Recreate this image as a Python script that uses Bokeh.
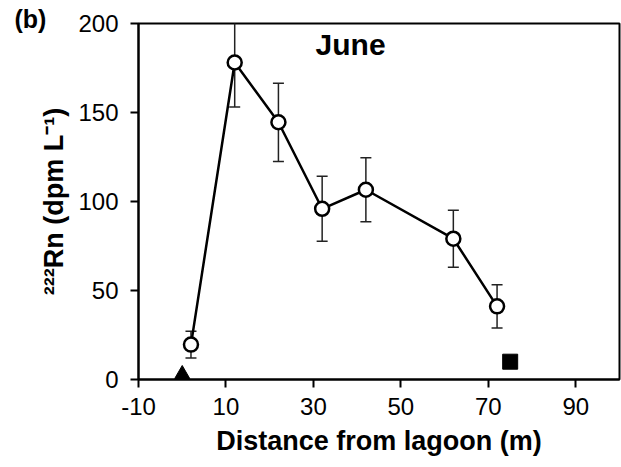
from bokeh.plotting import figure
from bokeh.models import FixedTicker, Label, ColumnDataSource
from bokeh.embed import file_html
from bokeh.resources import INLINE

# Data
distance = [2, 12, 22, 32, 42, 62, 72]
radon = [19.6, 178.1, 144.5, 95.9, 106.6, 79.1, 41.1]
radon_err = [7.5, 25.0, 22.0, 18.3, 18.0, 16.0, 12.2]

lagoon_x = [0]
lagoon_y = [3]
sea_x = [75]
sea_y = [10]

x_ticks = [-10, 10, 30, 50, 70, 90]
y_ticks = [0, 50, 100, 150, 200]
x_tick_labels = {t: str(t) for t in x_ticks}

FONT = "Liberation Sans"

p = figure(width=621, height=467, x_range=(-10, 100), y_range=(0, 200),
           output_backend="svg", toolbar_location=None,
           min_border_left=138, min_border_right=2, min_border_top=23,
           min_border_bottom=88)

p.xgrid.visible = False
p.ygrid.visible = False
p.outline_line_color = "black"
p.outline_line_width = 2
p.background_fill_color = "white"
p.border_fill_color = "white"

for ax in (p.xaxis[0], p.yaxis[0]):
    ax.axis_line_width = 2
    ax.axis_line_color = "black"
    ax.major_tick_line_width = 2
    ax.major_tick_line_color = "black"
    ax.major_tick_in = 0
    ax.major_tick_out = 8
    ax.minor_tick_line_color = None
    ax.major_label_text_font = FONT
    ax.major_label_text_font_size = "24px"
    ax.major_label_text_color = "black"
    ax.axis_label_text_font = FONT
    ax.axis_label_text_font_size = "27px"
    ax.axis_label_text_font_style = "bold"
    ax.axis_label_text_color = "black"

p.xaxis[0].ticker = FixedTicker(ticks=x_ticks)
p.xaxis[0].major_label_overrides = x_tick_labels
p.yaxis[0].ticker = FixedTicker(ticks=y_ticks)
p.xaxis[0].major_label_standoff = 10
p.yaxis[0].major_label_standoff = 12
p.xaxis[0].axis_label_standoff = 8
p.yaxis[0].axis_label_standoff = 6
p.xaxis[0].axis_label = "Distance from lagoon (m)"
p.yaxis[0].axis_label = "\u00b2\u00b2\u00b2Rn (dpm L\u207b\u00b9)"

# panel label as a title in the top margin
p.title.text = "(b)"
p.title_location = "above"
p.title.align = "left"
p.title.offset = -124
p.title.standoff = -18
p.title.text_font = FONT
p.title.text_font_size = "25px"
p.title.text_font_style = "bold"
p.title.text_color = "black"
p.title.text_line_height = 1.0
p.title.vertical_align = "bottom"

lo = [v - e for v, e in zip(radon, radon_err)]
hi = [v + e for v, e in zip(radon, radon_err)]
src = ColumnDataSource(dict(x=distance, y=radon, lo=lo, hi=hi))

# error bars
p.segment(x0="x", y0="lo", x1="x", y1="hi", source=src, line_color="#222222", line_width=1.5)
p.scatter(x="x", y="lo", source=src, marker="dash", size=11, line_color="#222222", line_width=1.5)
p.scatter(x="x", y="hi", source=src, marker="dash", size=11, line_color="#222222", line_width=1.5)

# series line and markers
p.line(x="x", y="y", source=src, line_color="black", line_width=2.5)
p.scatter(x="x", y="y", source=src, marker="circle", size=14, fill_color="white",
          line_color="black", line_width=2.5)

# other samples
p.scatter(lagoon_x, lagoon_y, marker="triangle", size=15, fill_color="black", line_color="black")
p.scatter(sea_x, sea_y, marker="square", size=15, fill_color="black", line_color="black")

p.add_layout(Label(x=38.5, y=188, text="June", text_font=FONT, text_font_size="30px",
                   text_font_style="bold", text_align="center", text_baseline="middle",
                   text_color="black"))

open("out.html", "w").write(file_html(p, INLINE))
